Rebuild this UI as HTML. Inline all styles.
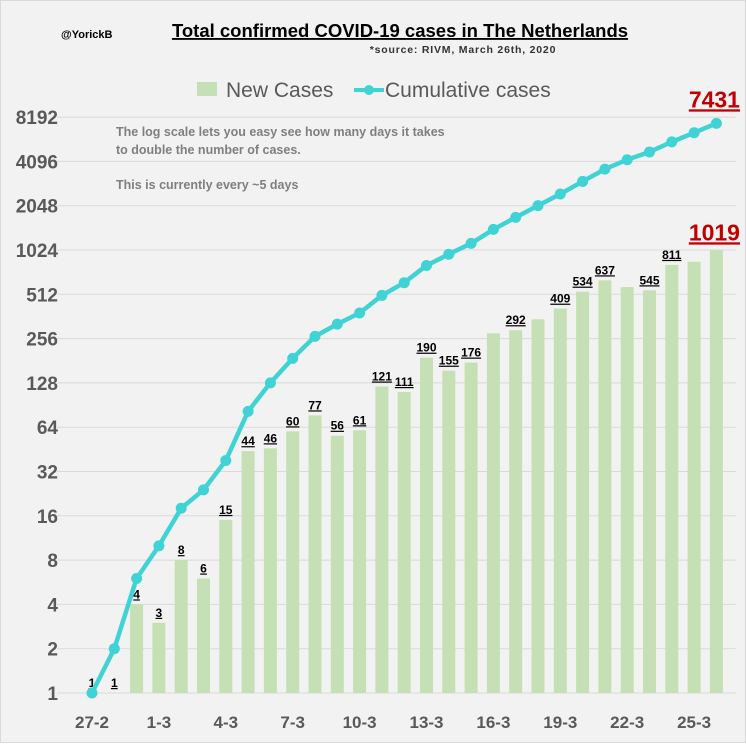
<!DOCTYPE html>
<html><head><meta charset="utf-8"><style>
body{margin:0;background:#fff}
#c{width:746px;height:743px;background:#f2f2f2;position:relative;font-family:"Liberation Sans",sans-serif;box-sizing:border-box;border:1px solid #d9d9d9}
</style></head><body>
<div id="c">
<svg id="s" width="746" height="743"></svg>
</div>
<script>
const days=["27-2","28-2","29-2","1-3","2-3","3-3","4-3","5-3","6-3","7-3","8-3","9-3","10-3","11-3","12-3","13-3","14-3","15-3","16-3","17-3","18-3","19-3","20-3","21-3","22-3","23-3","24-3","25-3","26-3"];
const newCases=[1,1,4,3,8,6,15,44,46,60,77,56,61,121,111,190,155,176,278,292,346,409,534,637,573,545,811,852,1019];
const cumulative=[1,2,6,10,18,24,38,82,128,188,265,321,382,503,614,804,959,1135,1413,1705,2051,2460,2994,3631,4204,4749,5560,6412,7431];
const labeled=[0,1,2,3,4,5,6,7,8,9,10,11,12,13,14,15,16,17,19,21,22,23,25,26];
const yTicks=[1,2,4,8,16,32,64,128,256,512,1024,2048,4096,8192];
const xTickIdx=[0,3,6,9,12,15,18,21,24,27];

const NS="http://www.w3.org/2000/svg",svg=document.getElementById('s');
const x=i=>91+i*22.3;
const y=v=>692-Math.log2(v)*44.3;
function el(t,a,txt){const e=document.createElementNS(NS,t);for(const k in a)e.setAttribute(k,a[k]);if(txt!==undefined)e.textContent=txt;svg.appendChild(e);return e;}

let e;
e=el('text',{x:60,y:37,'font-size':11,'font-weight':'bold',fill:'#000'},'@YorickB');

e=el('text',{x:399,y:36,'font-size':18.5,'font-weight':'bold','text-anchor':'middle','text-decoration':'underline',fill:'#000'},'Total confirmed COVID-19 cases in The Netherlands');

e=el('text',{x:462,y:52,'font-size':10.5,'font-weight':'bold',fill:'#333','text-anchor':'middle','letter-spacing':'0.8'},'*source:  RIVM, March  26th, 2020');


// legend
e=el('rect',{x:196,y:81,width:20,height:14,fill:'#c5e0b4'});

e=el('text',{x:225,y:96,'font-size':21,fill:'#595959'},'New Cases');

e=el('line',{x1:353,y1:89,x2:383,y2:89,stroke:'#3fd3d6','stroke-width':4});

e=el('circle',{cx:368,cy:89,r:5,fill:'#3fd3d6'});

e=el('text',{x:384,y:96,'font-size':21,fill:'#595959'},'Cumulative cases');


// grid + y labels
yTicks.forEach(v=>{
  e=el('line',{x1:56,x2:735,y1:y(v),y2:y(v),stroke:'#d9d9d9','stroke-width':1});
  
  e=el('text',{x:57,y:y(v)+7,'font-size':19,'font-weight':'bold','text-anchor':'end',fill:'#595959'},String(v));
  
});
xTickIdx.forEach(i=>{
  e=el('text',{x:x(i),y:727,'font-size':17,'font-weight':'bold','text-anchor':'middle',fill:'#595959'},days[i]);
  
});

// annotation
[['The log scale lets you easy see how many days it takes',135],['to double the number of cases.',153],['This is currently every ~5  days',188]].forEach(([t,yy])=>{
  e=el('text',{x:115,y:yy,'font-size':12.5,'font-weight':'bold',fill:'#7f7f7f'},t);
  
});

// bars
newCases.forEach((v,i)=>{
  const top=y(v);
  e=el('rect',{x:x(i)-6.5,y:top,width:13,height:Math.max(0,692-top),fill:'#c5e0b4'});
  
});
labeled.forEach(i=>{
  e=el('text',{x:x(i),y:y(newCases[i])-6,'font-size':12,'font-weight':'bold','text-anchor':'middle','text-decoration':'underline',fill:'#000'},String(newCases[i]));
  
});
const L=newCases.length-1;
e=el('text',{x:x(L)-2,y:y(newCases[L])-10,'font-size':23,'font-weight':'bold','text-anchor':'middle','text-decoration':'underline',fill:'#c00000'},String(newCases[L]));


// line
e=el('polyline',{points:cumulative.map((v,i)=>x(i)+','+y(v)).join(' '),fill:'none',stroke:'#3fd3d6','stroke-width':4.5,'stroke-linejoin':'round'});

cumulative.forEach((v,i)=>{
  e=el('circle',{cx:x(i),cy:y(v),r:5.5,fill:'#3fd3d6'});
  
});
const C=cumulative.length-1;
e=el('text',{x:x(C)-2,y:y(cumulative[C])-16,'font-size':23,'font-weight':'bold','text-anchor':'middle','text-decoration':'underline',fill:'#c00000'},String(cumulative[C]));

</script>
</body></html>
